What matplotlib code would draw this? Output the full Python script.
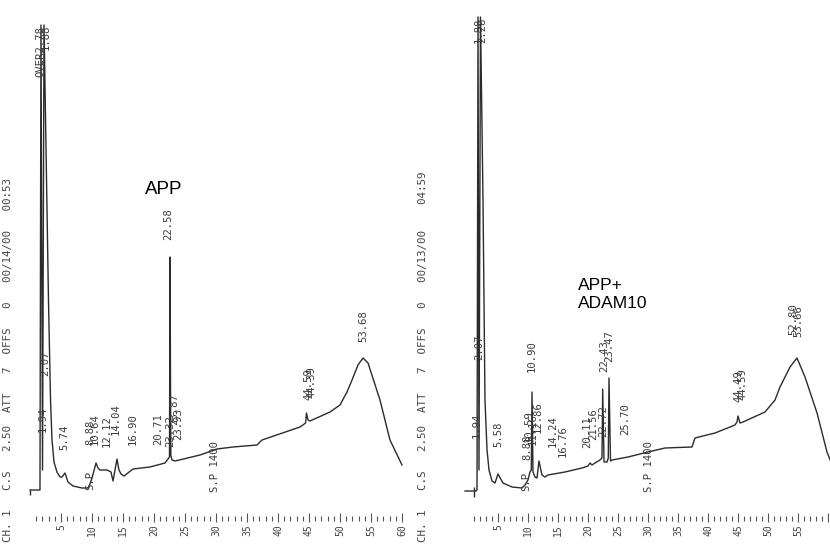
import matplotlib.pyplot as plt
import numpy as np

# APP chromatogram trace (time in min, detector signal)
app_time = [0.00, 1.61, 1.77, 2.02, 2.26, 2.98, 3.31, 3.55, 3.87, 4.35, 4.84, 5.16,
            5.65, 6.13, 6.94, 8.39, 9.35, 9.68, 10.00, 10.65, 10.97, 11.29, 12.42,
            13.06, 13.39, 14.03, 14.35, 14.68, 15.16, 16.61, 19.35, 21.77, 22.26,
            22.50, 22.58, 22.71, 22.90, 23.39, 27.42, 30.16, 32.74, 36.61, 37.42,
            43.55, 44.45, 44.59, 44.84, 45.16, 48.39, 50.00, 51.13, 51.94, 52.90,
            53.71, 54.52, 56.45, 58.06, 60.00]
app_signal = [0, 0, 465, 20, 465, 190, 90, 50, 28, 18, 13, 13,
              17, 8, 4, 2, 2, 6, 12, 27, 22, 20, 20,
              18, 9, 31, 20, 16, 14, 21, 23, 27, 31,
              33, 233, 35, 30, 29, 35, 41, 43, 45, 50,
              63, 67, 77, 70, 69, 78, 85, 98, 110, 125,
              132, 127, 90, 50, 25]

# APP + ADAM10 chromatogram trace
adam_time = [-0.50, 1.33, 1.50, 1.67, 1.83, 2.08, 2.50, 2.83, 3.17, 3.50, 4.00, 4.50,
             5.00, 5.83, 7.33, 9.00, 9.50, 10.00, 10.33, 10.55, 10.67, 10.83, 11.17,
             11.50, 11.83, 12.33, 12.83, 13.33, 16.17, 19.00, 20.00, 20.33, 20.67,
             21.17, 22.00, 22.33, 22.45, 22.67, 23.17, 23.38, 23.50, 23.75, 24.00,
             26.67, 30.00, 32.83, 37.33, 37.83, 41.17, 44.50, 44.83, 45.00, 45.33,
             45.83, 49.50, 51.17, 52.00, 53.67, 54.83, 56.17, 58.17, 59.83, 60.50]
adam_signal = [-1, -1, 0, 473, 20, 473, 290, 90, 40, 20, 9, 7,
               16, 7, 3, 2, 5, 10, 18, 20, 98, 18, 13,
               12, 29, 15, 13, 15, 18, 22, 24, 27, 25,
               27, 30, 32, 101, 28, 28, 32, 112, 29, 30,
               33, 38, 42, 43, 52, 57, 65, 68, 74, 67,
               68, 78, 90, 103, 123, 132, 113, 77, 38, 28]

# printed retention-time labels: text, time, level
app_labels = ["OVER2.78", "1.88", "1.94", "2.07", "5.74", "8.88", "10.64", "S.P",
              "12.12", "14.04", "16.90", "20.71", "23.32", "23.87", "23.93", "22.58",
              "S.P 1400", "44.59", "44.39", "53.68"]
app_label_time = [1.69, 2.50, 2.10, 2.42, 5.48, 9.68, 10.48, 9.68,
                  12.42, 13.87, 16.61, 20.65, 22.58, 23.23, 23.87, 22.26,
                  29.84, 44.84, 45.48, 53.71]
app_label_level = [413, 440, 58, 114, 40, 45, 45, 0,
                   43, 55, 45, 45, 43, 65, 50, 250,
                   -2, 90, 92, 148]

adam_labels = ["1.88", "2.28", "1.94", "2.07", "5.58", "8.88", "10.59", "S.P", "11.16",
               "10.90", "12.86", "14.24", "16.76", "20.11", "21.56", "22.72", "22.43",
               "23.47", "25.70", "S.P 1400", "44.49", "44.59", "52.80", "53.66"]
adam_label_time = [1.83, 2.33, 1.50, 1.83, 5.00, 9.83, 10.17, 9.67, 10.83,
                   10.67, 11.67, 14.17, 15.83, 19.83, 20.83, 22.50, 22.67,
                   23.50, 26.17, 30.17, 45.00, 45.83, 54.17, 55.00]
adam_label_level = [447, 447, 52, 130, 43, 30, 48, -1, 45,
                    118, 57, 43, 33, 42, 50, 53, 118,
                    128, 55, -2, 88, 90, 155, 153]

app_header = "CH. 1   C.S   2.50  ATT   7  OFFS   0   00/14/00   00:53"
adam_header = "CH. 1   C.S   2.50  ATT   7  OFFS   0   00/13/00    04:59"

app_ticks = [5, 10, 15, 20, 25, 30, 35, 40, 45, 50, 55, 60]
adam_ticks = [5, 10, 15, 20, 25, 30, 35, 40, 45, 50, 55]

ink = '#2b2b2b'
mono = 'DejaVu Sans Mono'


def draw_panel(ax, t, s, labels, lt, ll, header, ticks, start_mark):
    ax.plot(t, s, color=ink, lw=1.0)
    ax.vlines(start_mark[0], start_mark[1], start_mark[2], color=ink, lw=1.0)
    for txt, x, y in zip(labels, lt, ll):
        ax.text(x, y, txt, rotation=90, ha='center', va='bottom',
                family=mono, fontsize=7.6, color='#3c3c3c')
    # chart paper minute marks
    minutes = np.arange(1, 61)
    major = minutes[minutes % 5 == 0]
    minor = minutes[minutes % 5 != 0]
    ax.vlines(minor, -31, -26, color='#555555', lw=0.8)
    ax.vlines(major, -32, -23, color='#555555', lw=0.8)
    for v in ticks:
        ax.text(v, -34, str(v), rotation=90, ha='center', va='top',
                family=mono, fontsize=7, color='#444444')
    ax.text(0.019, 0.006, header, transform=ax.transAxes, rotation=90,
            ha='center', va='bottom', family=mono, fontsize=7.8, color='#444444')
    ax.set_ylim(-55, 490)
    ax.axis('off')


fig = plt.figure(figsize=(8.3, 5.45), dpi=100)
axL = fig.add_axes([0, 0, 0.5, 1])
axR = fig.add_axes([0.5, 0, 0.5, 1])

draw_panel(axL, app_time, app_signal, app_labels, app_label_time, app_label_level,
           app_header, app_ticks, (-0.08, -5, 0))
axL.set_xlim(-30 / 6.2, 385 / 6.2)
axL.text(18.55, 309, "APP", ha='left', va='top', family='Liberation Sans',
         fontsize=13.5, color='black')

draw_panel(axR, adam_time, adam_signal, adam_labels, adam_label_time, adam_label_level,
           adam_header, adam_ticks, (1.0, -7, 3))
axR.set_xlim(-53 / 6, 362 / 6)
axR.text(18.33, 212, "APP+\nADAM10", ha='left', va='top', family='Liberation Sans',
         fontsize=12.5, color='black', linespacing=1.25)

fig.savefig('out.png', dpi=100, facecolor='white')
